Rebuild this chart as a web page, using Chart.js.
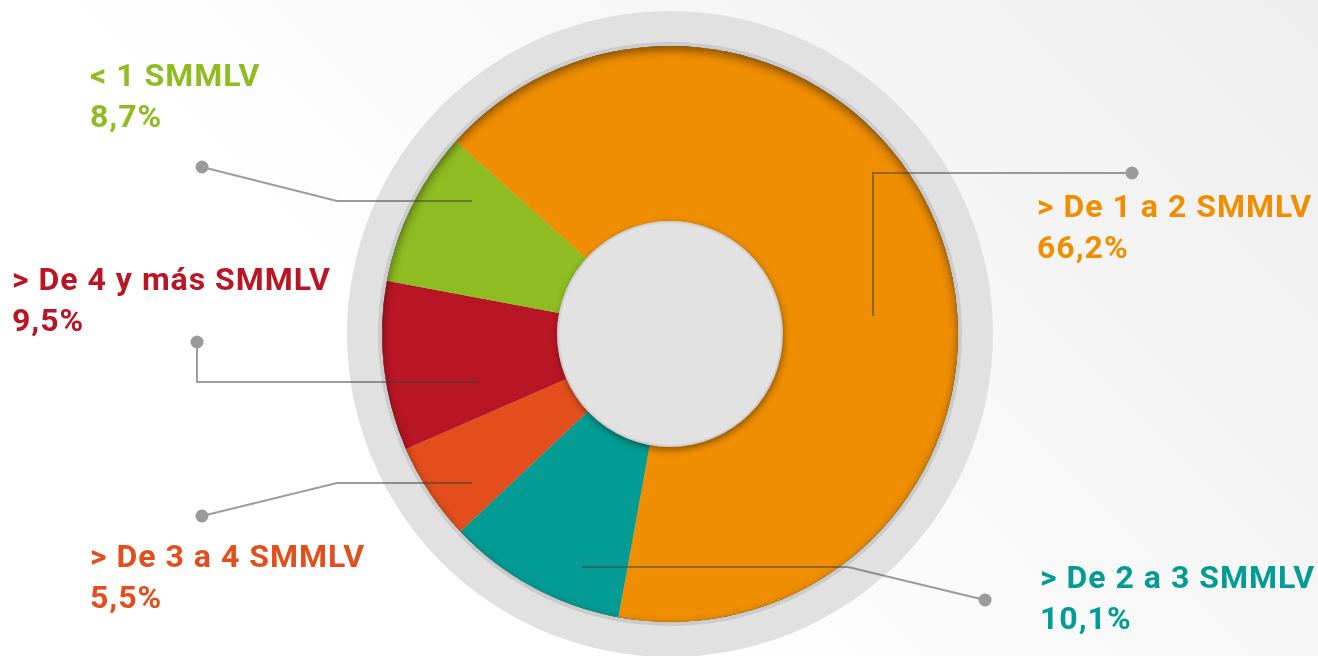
<!DOCTYPE html>
<html>
<head>
<meta charset="utf-8">
<script src="https://cdn.jsdelivr.net/npm/chart.js@4"></script>
<style>
html,body{margin:0;padding:0;overflow:hidden}
body{background:linear-gradient(225deg,#eeeeee 0%,#f7f7f7 35%,#ffffff 65%)}
#wrap{width:1318px;height:656px;position:relative}
</style>
</head>
<body>
<div id="wrap"><canvas id="chart"></canvas></div>
<script>
// categories in drawing order (clockwise, starting at the orange slice)
let categories = ["> De 1 a 2 SMMLV","> De 2 a 3 SMMLV","> De 3 a 4 SMMLV","> De 4 y más SMMLV","< 1 SMMLV"]
let values = [66.2,10.1,5.5,9.5,8.7]
let valueLabels = ["66,2%","10,1%","5,5%","9,5%","8,7%"]
let colors = ["#ef8e00","#029c94","#e24f1c","#b91625","#8fbc21"]

// leader lines: offsets from the chart centre, [dot, elbow, end]
let leaders = [
  [[462,-161],[203,-161],[203,-18]],
  [[315,266],[178,233],[-88,233]],
  [[-468,182],[-333,149],[-198,149]],
  [[-473,8],[-473,48],[-192,48]],
  [[-468,-167],[-333,-133],[-198,-133]]
]
// label positions (left x, first baseline) as offsets from the centre
let labelPos = [[367,-117],[370,254],[-580,233],[-658,-44],[-580,-248]]

let deco = {
  id:"deco",
  beforeDatasetsDraw(chart){
    let arc = chart.getDatasetMeta(0).data[0]
    let ctx = chart.ctx
    let cx = arc.x, cy = arc.y, r = arc.outerRadius
    ctx.save()
    ctx.beginPath()
    ctx.arc(cx,cy,r+35,0,Math.PI*2)
    ctx.fillStyle="#e1e1e1"
    ctx.fill()
    ctx.beginPath()
    ctx.arc(cx,cy,r+4,0,Math.PI*2)
    ctx.fillStyle="#cbcbcb"
    ctx.fill()
    ctx.restore()
  },
  afterDatasetsDraw(chart){
    let arc = chart.getDatasetMeta(0).data[0]
    let ctx = chart.ctx
    let cx = arc.x, cy = arc.y, r = arc.outerRadius
    // inner shadow along the top of the pie
    ctx.save()
    ctx.beginPath()
    ctx.arc(cx,cy,r,0,Math.PI*2)
    ctx.clip()
    ctx.beginPath()
    ctx.arc(cx,cy,r+20,0,Math.PI*2)
    ctx.lineWidth=40
    ctx.strokeStyle="#000"
    ctx.shadowColor="rgba(0,0,0,0.45)"
    ctx.shadowBlur=10
    ctx.shadowOffsetY=4
    ctx.stroke()
    ctx.restore()
    // centre disc
    let ir = arc.innerRadius
    ctx.save()
    ctx.beginPath()
    ctx.arc(cx,cy,ir,0,Math.PI*2)
    ctx.fillStyle="#e2e2e2"
    ctx.shadowColor="rgba(0,0,0,0.4)"
    ctx.shadowBlur=7
    ctx.shadowOffsetX=1
    ctx.shadowOffsetY=3
    ctx.fill()
    ctx.restore()
    ctx.save()
    ctx.beginPath()
    ctx.arc(cx,cy,ir-1,0,Math.PI*2)
    ctx.strokeStyle="rgba(0,0,0,0.08)"
    ctx.lineWidth=2
    ctx.stroke()
    ctx.restore()
    // leader lines
    ctx.save()
    leaders.forEach(pts=>{
      ctx.beginPath()
      ctx.moveTo(cx+pts[0][0],cy+pts[0][1])
      ctx.lineTo(cx+pts[1][0],cy+pts[1][1])
      ctx.lineTo(cx+pts[2][0],cy+pts[2][1])
      ctx.strokeStyle="rgba(60,60,60,0.5)"
      ctx.lineWidth=2
      ctx.stroke()
      ctx.beginPath()
      ctx.arc(cx+pts[0][0],cy+pts[0][1],6.5,0,Math.PI*2)
      ctx.fillStyle="#9a9a9a"
      ctx.fill()
    })
    ctx.restore()
    // labels
    ctx.save()
    ctx.font="bold 32px Roboto"
    ctx.textBaseline="alphabetic"
    ctx.textAlign="left"
    try{ctx.letterSpacing="1px"}catch(e){}
    categories.forEach((c,i)=>{
      let p = labelPos[i]
      ctx.fillStyle=colors[i]
      ctx.fillText(c,cx+p[0],cy+p[1])
      ctx.fillText(valueLabels[i],cx+p[0],cy+p[1]+41)
    })
    ctx.restore()
  }
}

new Chart(document.getElementById("chart"),{
  type:"doughnut",
  data:{
    labels:categories,
    datasets:[{
      data:values,
      backgroundColor:colors,
      borderWidth:0,
      hoverOffset:0
    }]
  },
  options:{
    responsive:true,
    maintainAspectRatio:false,
    animation:false,
    cutout:"39.2%",
    rotation:-48,
    layout:{padding:{top:46,bottom:34,left:382,right:360}},
    plugins:{legend:{display:false},tooltip:{enabled:false}},
    events:[]
  },
  plugins:[deco]
})
</script>
</body>
</html>
